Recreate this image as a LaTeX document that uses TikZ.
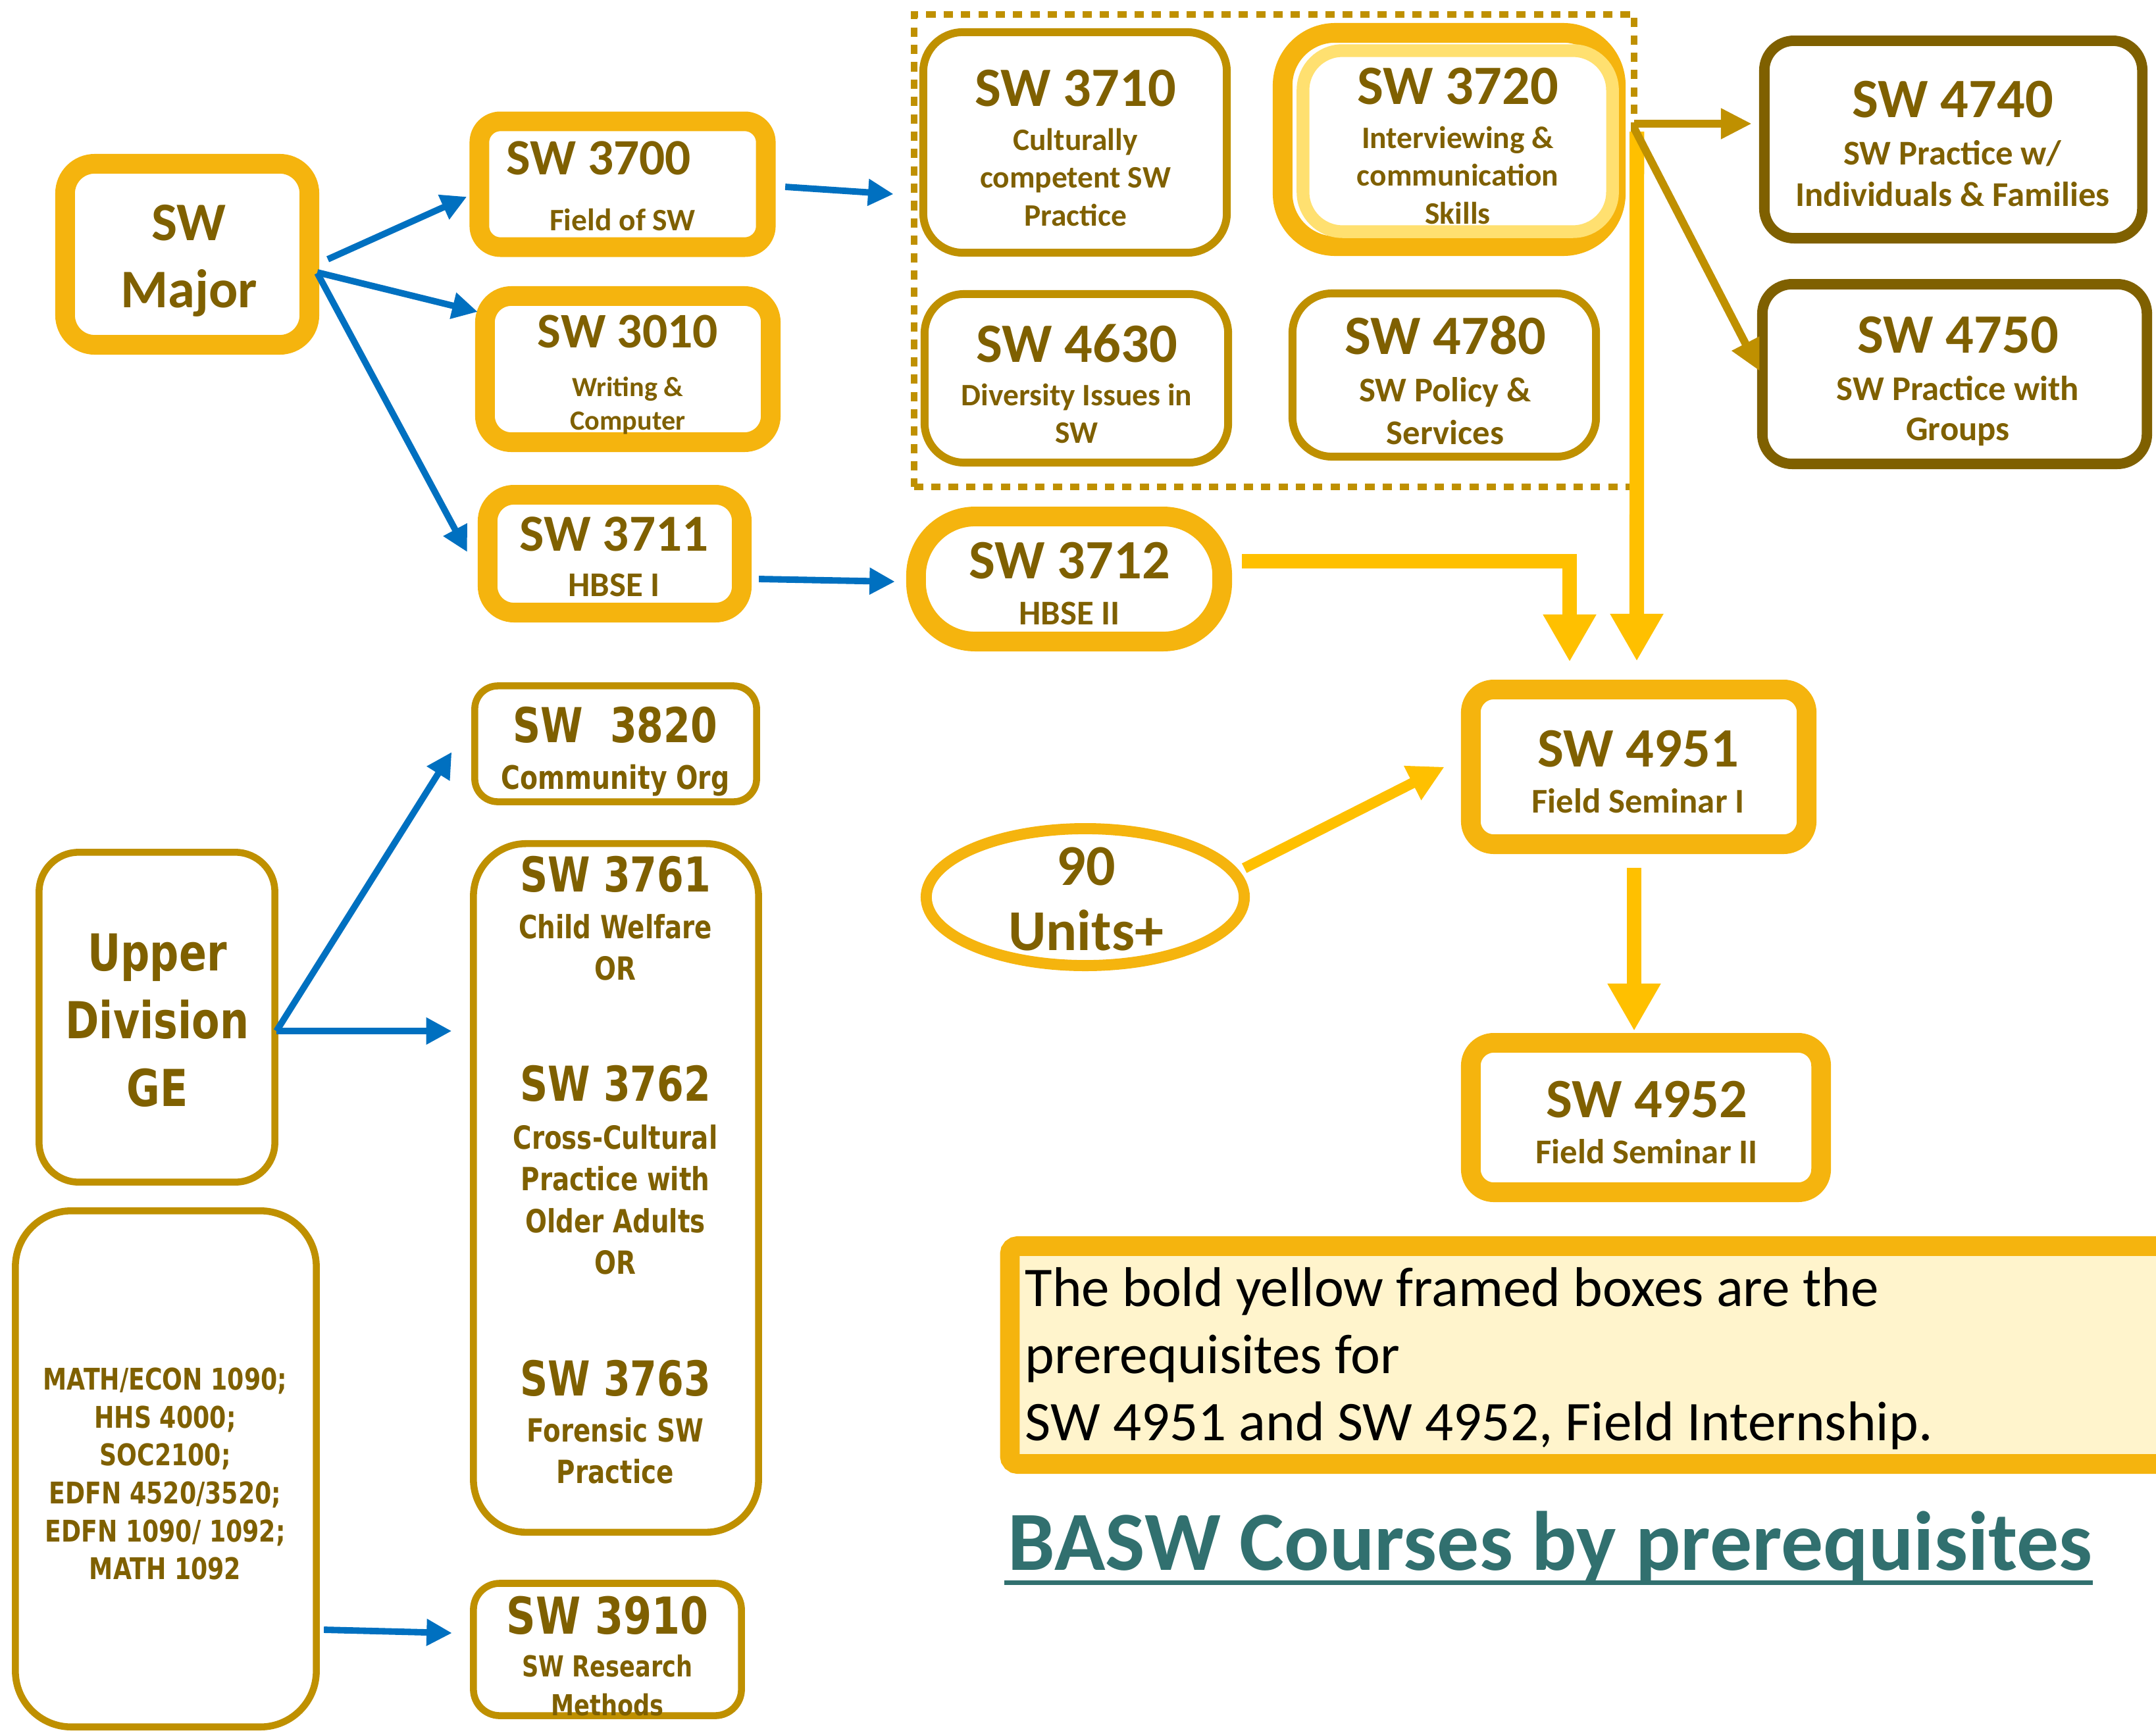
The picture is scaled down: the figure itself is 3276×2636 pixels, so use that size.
\documentclass[tikz,border=0pt]{standalone}
\usepackage{fontspec}
\setmainfont{Carlito}
\newfontfamily\verdfont[FakeStretch=0.8]{DejaVu Sans}
\usetikzlibrary{arrows.meta,calc,shapes.geometric}
\definecolor{boxgold}{HTML}{F5B40E}
\definecolor{arrgold}{HTML}{FFC000}
\definecolor{olivegold}{HTML}{BF9000}
\definecolor{darkolive}{HTML}{7F6000}
\definecolor{lightgold}{HTML}{FFE070}
\definecolor{creamfill}{HTML}{FFF4CC}
\definecolor{titleteal}{HTML}{31706F}
\definecolor{arrblue}{HTML}{0070C0}
\newcommand{\coursehead}[2]{{\fontsize{#1}{#1}\selectfont #2}}
\tikzset{
  box/.style={rectangle,outer sep=0pt,inner sep=0pt,fill=white},
  boldbox/.style={box,draw=boxgold,line width=8.5pt},
  thinbox/.style={box,draw=olivegold,line width=3.4pt,rounded corners=0.6cm},
  lowbox/.style={box,draw=olivegold,line width=3pt},
  darkbox/.style={box,draw=darkolive,line width=4.5pt,rounded corners=0.45cm},
  lbl/.style={text=darkolive,align=center,inner sep=0pt,anchor=north},
  bluearr/.style={draw=arrblue,line width=2.8pt,-{Triangle[length=11pt,width=11pt]}},
  goldarr/.style={draw=arrgold,line width=6.3pt,-{Triangle[length=20.5pt,width=21.6pt]}},
  olivearr/.style={draw=olivegold,line width=3.4pt,-{Triangle[length=13.4pt,width=12.5pt]}}
}
\begin{document}
\begin{tikzpicture}[x=0.01cm,y=-0.01cm]
\useasboundingbox (0,0) rectangle (3276,2636);
\clip (0,0) rectangle (3276,2636);
\node[rectangle,draw=olivegold,line width=2.8pt,dash pattern=on 4pt off 3.5pt,minimum width=10.94cm,minimum height=7.18cm,outer sep=0pt] (grp) at (1936,381) {};
\node[boldbox,rounded corners=0.45cm,minimum width=3.71cm,minimum height=2.75cm] (major) at (284.5,386.5) {};
\node[boldbox,rounded corners=0.32cm,minimum width=4.35cm,minimum height=1.91cm] (s3700) at (946,280) {};
\node[boldbox,rounded corners=0.4cm,minimum width=4.34cm,minimum height=2.22cm] (s3010) at (954,561) {};
\node[boldbox,rounded corners=0.4cm,minimum width=3.86cm,minimum height=1.79cm] (s3711) at (934,841.5) {};
\node[boldbox,rounded corners=0.9cm,minimum width=4.65cm,minimum height=1.90cm] (s3712) at (1624.5,880) {};
\node[boldbox,rounded corners=0.8cm,minimum width=5.06cm,minimum height=3.24cm] (s3720) at (2202,212) {};
\node[box,draw=lightgold,line width=5.5pt,rounded corners=0.6cm,minimum width=4.70cm,minimum height=2.75cm] (s3720in) at (2215,214.5) {};
\node[boldbox,rounded corners=0.35cm,minimum width=5.10cm,minimum height=2.35cm] (s4951) at (2490,1165.5) {};
\node[boldbox,rounded corners=0.35cm,minimum width=5.32cm,minimum height=2.27cm] (s4952) at (2501,1698.5) {};
\node[thinbox,minimum width=4.61cm,minimum height=3.35cm] (s3710) at (1633.5,216.5) {};
\node[thinbox,minimum width=4.61cm,minimum height=2.56cm] (s4630) at (1635.5,575) {};
\node[thinbox,minimum width=4.61cm,minimum height=2.48cm] (s4780) at (2194.5,570) {};
\node[darkbox,minimum width=5.74cm,minimum height=3.00cm] (s4740) at (2968,212) {};
\node[darkbox,minimum width=5.84cm,minimum height=2.73cm] (s4750) at (2970,568.5) {};
\node[lowbox,rounded corners=0.35cm,minimum width=4.28cm,minimum height=1.76cm] (s3820) at (935.5,1130.5) {};
\node[lowbox,rounded corners=0.8cm,minimum width=4.33cm,minimum height=10.46cm] (s376x) at (936,1805.5) {};
\node[lowbox,rounded corners=0.4cm,minimum width=4.07cm,minimum height=2.01cm] (s3910) at (923,2507) {};
\node[lowbox,rounded corners=0.6cm,minimum width=3.58cm,minimum height=5.01cm] (upper) at (238.5,1546) {};
\node[lowbox,rounded corners=0.85cm,minimum width=4.57cm,minimum height=7.84cm] (mathbox) at (252,2232.5) {};
\node[ellipse,draw=boxgold,line width=4.8pt,fill=white,inner sep=0pt,outer sep=0pt,minimum width=4.83cm,minimum height=2.08cm] (units) at (1649,1363.5) {};
\node[box,draw=boxgold,fill=creamfill,line width=8.5pt,rounded corners=0.12cm,minimum width=17.95cm,minimum height=3.31cm] (legend) at (2432.5,2059.5) {};

\node[lbl,font=\bfseries\fontsize{23.5}{29}\selectfont] (tmajor) at (287,311) {SW\\Major};
\node[lbl,font=\bfseries\fontsize{13.5}{16}\selectfont] (t3700) at (946,214) {\coursehead{22}{SW 3700\kern20.5pt}\\[8.2pt]Field of SW};
\node[lbl,font=\bfseries\fontsize{12}{14.5}\selectfont] (t3010) at (954,478) {\coursehead{21.5}{SW 3010}\\[6.6pt]Writing \&\\Computer};
\node[lbl,font=\bfseries\fontsize{15}{18}\selectfont] (t3711) at (933,785) {\coursehead{22.5}{SW 3711}\\[1.6pt]HBSE I};
\node[lbl,font=\bfseries\fontsize{15}{18}\selectfont] (t3712) at (1625,823) {\coursehead{24}{SW 3712}\\[1.9pt]HBSE II};
\node[lbl,font=\bfseries\fontsize{13.5}{16.4}\selectfont] (t3710) at (1634,105) {\coursehead{24}{SW 3710}\\[2.7pt]Culturally\\competent SW\\Practice};
\node[lbl,font=\bfseries\fontsize{13.5}{16.4}\selectfont] (t3720) at (2215,102) {\coursehead{24}{SW 3720}\\[2.7pt]Interviewing \&\\communication\\Skills};
\node[lbl,font=\bfseries\fontsize{13.5}{16.2}\selectfont] (t4630) at (1636,492) {\coursehead{24}{SW 4630}\\[2.6pt]Diversity Issues in\\SW};
\node[lbl,font=\bfseries\fontsize{15}{18.5}\selectfont] (t4780) at (2196,480) {\coursehead{24}{SW 4780}\\[1.7pt]SW Policy \&\\Services};
\node[lbl,font=\bfseries\fontsize{15}{18}\selectfont] (t4740) at (2967,122) {\coursehead{24}{SW 4740}\\[2.5pt]SW Practice w/\\Individuals \& Families};
\node[lbl,font=\bfseries\fontsize{15}{17.5}\selectfont] (t4750) at (2975,480) {\coursehead{24}{SW 4750}\\[3pt]SW Practice with\\Groups};
\node[lbl,font=\bfseries\fontsize{15}{18}\selectfont] (t4951) at (2489,1109) {\coursehead{24}{SW 4951}\\[1.9pt]Field Seminar I};
\node[lbl,font=\bfseries\fontsize{15}{18}\selectfont] (t4952) at (2502,1642) {\coursehead{24}{SW 4952}\\[1.9pt]Field Seminar II};
\node[lbl,font=\bfseries\fontsize{25}{28.2}\selectfont] (tunits) at (1650,1287) {90\\Units+};
\node[lbl,font=\verdfont\bfseries\fontsize{14}{17}\selectfont] (t3820) at (935,1073) {\coursehead{20.8}{SW\ \ 3820}\\[3.2pt]Community Org};
\node[lbl,font=\verdfont\bfseries\fontsize{13.8}{18}\selectfont] (t376x) at (935,1300) {\coursehead{20.8}{SW 3761}\\[2.2pt]Child Welfare\\OR\\[34.3pt]\coursehead{20.8}{SW 3762}\\[2.8pt]Cross-Cultural\\Practice with\\Older Adults\\OR\\[34.6pt]\coursehead{20.8}{SW 3763}\\[1.9pt]Forensic SW\\Practice};
\node[lbl,font=\verdfont\bfseries\fontsize{12.5}{16.8}\selectfont] (t3910) at (923,2425) {\coursehead{22}{SW 3910}\\[1.7pt]SW Research\\Methods};
\node[lbl,font=\verdfont\bfseries\fontsize{22}{29.3}\selectfont] (tupper) at (239,1418) {Upper\\Division\\GE};
\node[lbl,font=\verdfont\bfseries\fontsize{12.9}{16.4}\selectfont] (tmath) at (251,2078) {MATH/ECON 1090;\\HHS 4000;\\SOC2100;\\EDFN 4520/3520;\\EDFN 1090/ 1092;\\MATH 1092};
\node[anchor=north west,align=left,inner sep=0pt,text=black,font=\fontsize{24.2}{29}\selectfont] (ltext) at (1557,1926) {The bold yellow framed boxes are the\\prerequisites for\\SW 4951 and SW 4952, Field Internship.};
\node[anchor=base west,inner sep=0pt,text=titleteal,font=\bfseries\fontsize{36.35}{40}\selectfont] (title) at (1531,2386) {BASW Courses by prerequisites};
\draw[titleteal,line width=2.1pt] ($(title.base west)+(-5,19.5)$) -- ($(title.base east)+(0,19.5)$);

\draw[bluearr] ($(major.east)+(28,7.5)$) -- ($(s3700.west)+(-19,19)$);
\draw[bluearr] ($(major.east)+(12,27.5)$) -- ($(s3010.north west)+(-11,24)$);
\draw[bluearr] ($(major.east)+(12,28.5)$) -- ($(s3711.west)+(-31,-2.5)$);
\draw[bluearr] ($(s3700.east)+(29.5,4)$) -- ($(grp.west)+(-31,-86)$);
\draw[bluearr] ($(s3711.east)+(26,38.5)$) -- ($(s3712.west)+(-32,4)$);
\coordinate (ue) at ($(upper.east)+(2.5,21)$);
\draw[bluearr] (ue) -- ($(s3820.west)+(-35,12.5)$);
\draw[bluearr] (ue) -- ($(s376x.west|-ue)+(-33,0)$);
\draw[bluearr] ($(mathbox.east)+(11.5,244.5)$) -- ($(s3910.west)+(-32.5,-25)$);

\draw[goldarr] ($(s3712.east)+(30,-27)$) -| ($(s4951.north)+(-105,-42)$);
\draw[goldarr] ($(s3720.east)+(32,-12)$) -- ($(s4951.north)+(-3,-43)$);
\draw[draw=arrgold,line width=4.6pt,-{Triangle[length=15.5pt,width=15.5pt]}] ($(units.east)+(0,-44)$) -- ($(s4951.west)+(-40,0)$);
\draw[goldarr] ($(s4951.south)+(-7,36)$) -- ($(s4952.north)+(-18,-18)$);

\draw[olivearr] ($(s3720.east)+(28,-24)$) -- ($(s4740.west)+(-19,-24)$);
\draw[olivearr] ($(s3720.east)+(28,-17)$) -- ($(s4750.west)+(-4,-4.5)$);
\end{tikzpicture}
\end{document}
